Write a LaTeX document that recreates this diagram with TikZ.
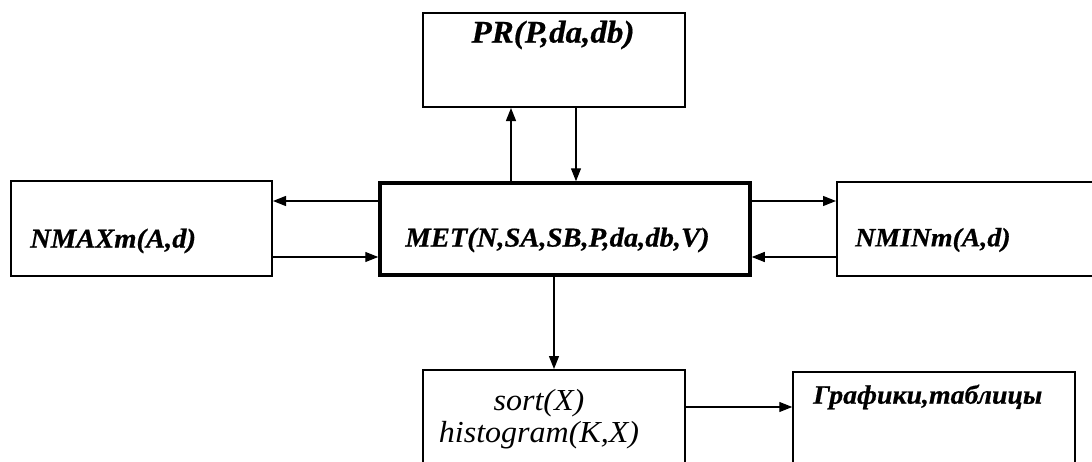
\documentclass[tikz,border=0pt]{standalone}
\usepackage{fontspec}
\setmainfont{Liberation Serif}
\newfontfamily\bifont[FakeStretch=1.05,FakeBold=0.6]{Liberation Serif}
\newfontfamily\itfont[FakeStretch=1.05]{Liberation Serif}
\usetikzlibrary{arrows.meta}
\tikzset{
  box/.style={draw, line width=2pt, fill=white, inner sep=0pt},
  thickbox/.style={draw, line width=3.5pt, fill=white, inner sep=0pt},
  arr/.style={line width=1.3pt, -{Triangle[length=13pt,width=10pt]}},
  lbl/.style={inner sep=0pt, font=\bifont\bfseries\itshape},
}
\begin{document}
\begin{tikzpicture}[x=1pt,y=-1pt]
\useasboundingbox (0,0) rectangle (1092,461);
\clip (0,0) rectangle (1092,461);
% boxes
\node[box, minimum width=262pt, minimum height=94pt] (pr) at (554,60) {};
\node[box, minimum width=261pt, minimum height=95pt] (nmax) at (141.5,228.5) {};
\node[thickbox, minimum width=370pt, minimum height=92pt] (met) at (565,229) {};
\node[box, minimum width=280pt, minimum height=94pt, anchor=west] (nmin) at (836,229) {};
\node[box, minimum width=262pt, minimum height=120pt, anchor=north] (srt) at (554,369) {};
\node[box, line width=1.5pt, minimum width=282pt, minimum height=120pt, anchor=north] (gr) at (934,371) {};
% texts
\node[lbl, font=\bifont\bfseries\itshape\fontsize{31.5}{34}\selectfont] (prt) at (553,35) {PR(P,da,db)};
\node[lbl, font=\bifont\bfseries\itshape\fontsize{27.2}{30}\selectfont, anchor=west] (nmaxt) at (30,241) {NMAXm(A,d)};
\node[lbl, font=\bifont\bfseries\itshape\fontsize{27.2}{30}\selectfont] (mett) at (557.5,240) {MET(N,SA,SB,P,da,db,V)};
\node[lbl, font=\bifont\bfseries\itshape\fontsize{26.5}{30}\selectfont, anchor=west] (nmint) at (855,240) {NMINm(A,d)};
\node[inner sep=0pt, align=center, font=\itfont\itshape\fontsize{30.5}{32}\selectfont] (srtt) at (539,419) {sort(X)\\histogram(K,X)};
\node[lbl, font=\bifont\bfseries\itshape\fontsize{26.5}{30}\selectfont, anchor=west] (grt) at (813,397) {Графики,таблицы};
% coordinates for connector positions
\coordinate (xu) at (511,0);
\coordinate (xd) at (576,0);
\coordinate (xm) at (554,0);
\coordinate (yt) at (0,201);
\coordinate (yb) at (0,257);
\coordinate (yg) at (0,407);
% connectors
\draw[arr] (met.north -| xu) -- (pr.south -| xu);
\draw[arr] (pr.south -| xd) -- (met.north -| xd);
\draw[arr] (met.west |- yt) -- (nmax.east |- yt);
\draw[arr] (nmax.east |- yb) -- (met.west |- yb);
\draw[arr] (met.east |- yt) -- (nmin.west |- yt);
\draw[arr] (nmin.west |- yb) -- (met.east |- yb);
\draw[arr] (met.south -| xm) -- (srt.north -| xm);
\draw[arr] (srt.east |- yg) -- (gr.west |- yg);
\end{tikzpicture}
\end{document}
